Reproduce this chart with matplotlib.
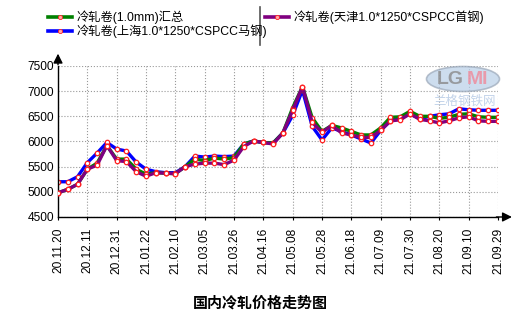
import matplotlib.pyplot as plt
from matplotlib.lines import Line2D
from matplotlib.patches import Ellipse

plt.rcParams['font.family'] = ['Liberation Sans', 'Noto Sans CJK SC', 'DejaVu Sans']

# weekly prices, yuan/ton
total = [4980, 5050, 5150, 5450, 5570, 5920, 5650, 5650, 5450, 5350, 5380, 5370,
         5360, 5500, 5650, 5620, 5670, 5650, 5680, 5950, 6010, 5980, 5970, 6170,
         6670, 7090, 6470, 6200, 6320, 6270, 6200, 6130, 6130, 6270, 6480, 6490,
         6600, 6500, 6500, 6460, 6480, 6540, 6550, 6490, 6480, 6480]
shanghai = [5200, 5200, 5300, 5580, 5770, 5980, 5850, 5810, 5590, 5450, 5400, 5380,
            5380, 5500, 5710, 5690, 5710, 5700, 5710, 5950, 6010, 5980, 5970, 6170,
            6520, 7020, 6300, 6030, 6270, 6200, 6130, 6050, 5970, 6220, 6410, 6470,
            6550, 6450, 6500, 6530, 6550, 6650, 6630, 6620, 6620, 6620]
tianjin = [4980, 5050, 5150, 5450, 5530, 5920, 5620, 5600, 5400, 5310, 5380, 5370,
           5360, 5500, 5550, 5570, 5570, 5540, 5630, 5900, 6010, 5980, 5950, 6170,
           6620, 7090, 6380, 6180, 6320, 6170, 6130, 6080, 6080, 6220, 6410, 6430,
           6550, 6440, 6410, 6370, 6410, 6470, 6490, 6410, 6400, 6400]

date_labels = ['20.11.20', '20.12.11', '20.12.31', '21.01.22', '21.02.10', '21.03.05',
               '21.03.26', '21.04.16', '21.05.08', '21.05.28', '21.06.18', '21.07.09',
               '21.07.30', '21.08.20', '21.09.10', '21.09.29']

series_names = ['冷轧卷(1.0mm)汇总', '冷轧卷(上海1.0*1250*CSPCC马钢)', '冷轧卷(天津1.0*1250*CSPCC首钢)']

fig = plt.figure(figsize=(5.23, 3.26), dpi=100)
ax = fig.add_axes([0.1109, 0.3344, 0.8413, 0.4632])

x = list(range(len(total)))
style = dict(lw=2.4, marker='o', ms=3.2, mfc='white', mec='#ff2020', mew=0.9)
l_total, = ax.plot(x, total, color='#008000', zorder=3, **style)
l_sh, = ax.plot(x, shanghai, color='#0000ff', zorder=2, **style)
l_tj, = ax.plot(x, tianjin, color='#800080', zorder=4, **style)

ax.set_xlim(0, 45)
ax.set_ylim(4500, 7500)
ax.set_yticks(range(4500, 7501, 500))
ax.set_xticks(range(0, 46, 3))
ax.set_xticklabels(date_labels, rotation=90)
ax.tick_params(axis='x', length=2, labelsize=8.6, pad=6)
ax.tick_params(axis='y', length=0, labelsize=8.6, pad=3)
ax.grid(True, color='#999999', ls=':', lw=0.8)

for side in ['top', 'right']:
    ax.spines[side].set_visible(False)
ax.spines['left'].set_linewidth(1.0)
ax.spines['bottom'].set_linewidth(1.0)

# axis arrows
ax.annotate('', xy=(1.038, 0), xytext=(0.99, 0), xycoords='axes fraction',
            arrowprops=dict(arrowstyle='-|>', color='black', lw=1.0,
                            mutation_scale=14), annotation_clip=False)
ax.annotate('', xy=(0, 1.1), xytext=(0, 0.99), xycoords='axes fraction',
            arrowprops=dict(arrowstyle='-|>', color='black', lw=1.0,
                            mutation_scale=14), annotation_clip=False)

# watermark logo
logo = Ellipse((463 / 523, 1 - 79 / 326), 73 / 523, 25 / 326, transform=fig.transFigure,
               facecolor='#b8cfe8', edgecolor='#9aa7b8', lw=1.2, alpha=0.7, zorder=1)
fig.patches.append(logo)
fig.text(450 / 523, 1 - 80 / 326, 'LG', color='#8a8a8a', fontsize=14, fontweight='bold',
         ha='center', va='center', alpha=0.8)
fig.text(477 / 523, 1 - 80 / 326, 'MI', color='#f08a9a', fontsize=14, fontweight='bold',
         ha='center', va='center', alpha=0.8)
fig.text(465 / 523, 1 - 102 / 326, '兰格钢铁网', color='#a8c0e0', fontsize=9,
         style='italic', ha='center', va='center', alpha=0.7)

# legend: two columns split by a thin rule
handles = [Line2D([], [], color=l.get_color(), lw=2.6, marker='o', ms=3, mfc='#ffaaaa',
                  mec='#ff2020', mew=0.6) for l in (l_total, l_sh, l_tj)]
leg_opts = dict(loc='upper left', frameon=False, fontsize=8.8, handlelength=2.0,
                handletextpad=0.4, labelspacing=0.05, borderaxespad=0.3)
fig.legend(handles[:2], series_names[:2], bbox_to_anchor=(0.0746, 0.994), **leg_opts)
fig.legend(handles[2:], series_names[2:], bbox_to_anchor=(0.4895, 0.994), **leg_opts)
fig.add_artist(Line2D([260 / 523, 260 / 523], [1 - 7 / 326, 1 - 45 / 326],
                      color='#555555', lw=1.2))

fig.text(260 / 523, 1 - 303 / 326, '国内冷轧价格走势图', ha='center', va='center',
         fontsize=10.8, fontweight='bold', family=['Noto Sans CJK SC'])

fig.savefig('out.png', dpi=100)
